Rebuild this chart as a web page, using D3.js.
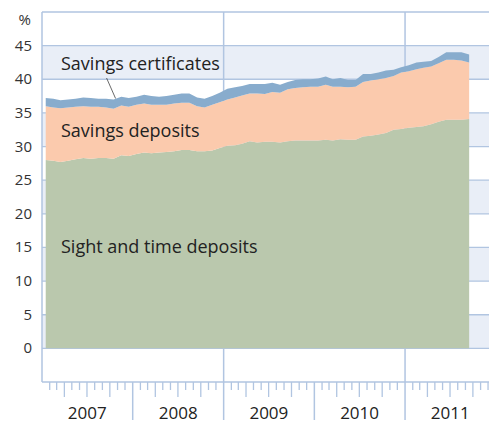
<!DOCTYPE html>
<html>
<head>
<meta charset="utf-8">
<script src="https://cdn.jsdelivr.net/npm/d3@7"></script>
<style>
  body { margin: 0; background: #fff; }
  svg { display: block; font-family: "Open Sans", sans-serif; }
</style>
</head>
<body>
<div id="chart"></div>
<script>
// monthly shares, Jan 2007 - Sep 2011 (%)
var sightTime = [28.0, 27.9, 27.7, 27.9, 28.1, 28.3, 28.2, 28.3, 28.3, 28.2, 28.7, 28.6,
                 28.9, 29.1, 29.0, 29.1, 29.2, 29.3, 29.5, 29.5, 29.3, 29.3, 29.4, 29.8,
                 30.1, 30.2, 30.4, 30.8, 30.6, 30.7, 30.7, 30.6, 30.8, 30.9, 30.9, 30.9,
                 30.9, 31.0, 30.9, 31.1, 31.0, 31.0, 31.5, 31.6, 31.8, 32.0, 32.5, 32.6,
                 32.8, 32.9, 33.0, 33.3, 33.7, 34.0, 34.0, 34.0, 34.1];
var savingsDeposits = [8.0, 7.9, 8.0, 7.9, 7.8, 7.7, 7.7, 7.6, 7.5, 7.4, 7.4, 7.3,
                       7.3, 7.3, 7.2, 7.1, 7.0, 7.1, 7.0, 7.0, 6.7, 6.5, 6.8, 6.8,
                       6.9, 7.1, 7.2, 7.1, 7.3, 7.1, 7.4, 7.4, 7.7, 7.8, 7.9, 8.0,
                       8.0, 8.2, 8.0, 7.8, 7.8, 7.9, 8.1, 8.2, 8.2, 8.2, 8.0, 8.4,
                       8.4, 8.6, 8.7, 8.6, 8.7, 8.9, 8.9, 8.8, 8.4];
var savingsCertificates = [1.2, 1.3, 1.2, 1.2, 1.2, 1.3, 1.3, 1.2, 1.3, 1.4, 1.3, 1.3,
                           1.2, 1.3, 1.3, 1.2, 1.3, 1.3, 1.4, 1.4, 1.3, 1.3, 1.3, 1.4,
                           1.6, 1.5, 1.4, 1.4, 1.4, 1.5, 1.4, 1.2, 1.1, 1.2, 1.2, 1.1,
                           1.2, 1.2, 1.1, 1.3, 1.1, 1.0, 1.2, 1.0, 1.0, 1.1, 0.9, 0.8,
                           0.9, 1.0, 0.9, 0.8, 0.9, 1.1, 1.1, 1.2, 1.2];
var years = [2007, 2008, 2009, 2010, 2011];
var yTicks = [0, 5, 10, 15, 20, 25, 30, 35, 40, 45];

var width = 489;
var height = 424;
var left = 42;

var months = d3.timeMonth.range(new Date(2007, 0, 1), new Date(2011, 9, 1));
var rows = months.map(function (m, i) {
    return {
        date: new Date(m.getFullYear(), m.getMonth(), 16),
        sight: sightTime[i],
        deposits: savingsDeposits[i],
        certificates: savingsCertificates[i]
    };
});

var x = d3.scaleTime()
    .domain([new Date(2007, 0, 1), new Date(2012, 0, 1)])
    .range([left, left + 60 * 7.5625]);
var y = d3.scaleLinear().domain([-5, 50]).range([382, 12]);

var gridColor = "#b1c5e1";
var svg = d3.select("#chart").append("svg")
    .attr("width", width)
    .attr("height", height);

// alternating bands
svg.append("g").selectAll("rect")
    .data([0, 10, 20, 30, 40])
    .enter().append("rect")
    .attr("x", left)
    .attr("y", function (d) { return y(d + 5); })
    .attr("width", width - left)
    .attr("height", function (d) { return y(d) - y(d + 5); })
    .attr("fill", "#e9eef7");

// horizontal lines
svg.append("g").selectAll("line")
    .data(d3.range(-5, 51, 5))
    .enter().append("line")
    .attr("x1", left).attr("x2", width)
    .attr("y1", function (d) { return y(d); })
    .attr("y2", function (d) { return y(d); })
    .attr("stroke", gridColor)
    .attr("stroke-width", 1.3);

// vertical lines every two years
svg.append("g").selectAll("line")
    .data([2009, 2011])
    .enter().append("line")
    .attr("x1", function (d) { return x(new Date(d, 0, 1)); })
    .attr("x2", function (d) { return x(new Date(d, 0, 1)); })
    .attr("y1", y(50)).attr("y2", 420)
    .attr("stroke", gridColor)
    .attr("stroke-width", 1.5);

svg.append("line")
    .attr("x1", left).attr("x2", left)
    .attr("y1", y(50)).attr("y2", y(-5))
    .attr("stroke", gridColor)
    .attr("stroke-width", 1.5);

// stacked areas
var stack = d3.stack().keys(["sight", "deposits", "certificates"]);
var colors = { sight: "#bac8ad", deposits: "#fbcaad", certificates: "#88accd" };
var area = d3.area()
    .x(function (d) { return x(d.data.date); })
    .y0(function (d) { return y(d[0]); })
    .y1(function (d) { return y(d[1]); });

svg.append("g").selectAll("path")
    .data(stack(rows))
    .enter().append("path")
    .attr("d", area)
    .attr("fill", function (d) { return colors[d.key]; });

// bottom axis ticks
var allMonths = d3.timeMonth.range(new Date(2007, 0, 1), new Date(2012, 1, 1));
svg.append("g").selectAll("line")
    .data(allMonths.filter(function (m) { return m.getMonth() != 0; }))
    .enter().append("line")
    .attr("x1", function (d) { return x(d); })
    .attr("x2", function (d) { return x(d); })
    .attr("y1", 382)
    .attr("y2", function (d) { return d.getMonth() % 3 == 0 ? 397 : 390; })
    .attr("stroke", gridColor)
    .attr("stroke-width", 1.3);

svg.append("g").selectAll("line")
    .data([2008, 2010])
    .enter().append("line")
    .attr("x1", function (d) { return x(new Date(d, 0, 1)); })
    .attr("x2", function (d) { return x(new Date(d, 0, 1)); })
    .attr("y1", 382).attr("y2", 420)
    .attr("stroke", gridColor)
    .attr("stroke-width", 1.5);

svg.append("g").selectAll("text")
    .data(years)
    .enter().append("text")
    .attr("x", function (d) { return x(new Date(d, 6, 2)); })
    .attr("y", 419)
    .attr("text-anchor", "middle")
    .attr("font-size", "17px")
    .attr("fill", "#222")
    .text(function (d) { return d; });

// y labels
svg.append("g").selectAll("text")
    .data(yTicks)
    .enter().append("text")
    .attr("x", 32)
    .attr("y", function (d) { return y(d) + 5; })
    .attr("text-anchor", "end")
    .attr("font-size", "15px")
    .attr("fill", "#333")
    .text(function (d) { return d; });

svg.append("text")
    .attr("x", 31).attr("y", 25)
    .attr("text-anchor", "end")
    .attr("font-size", "15px")
    .attr("fill", "#333")
    .text("%");

// series labels
var labelStyle = function (sel) {
    sel.attr("font-size", "18px").attr("fill", "#222");
};
svg.append("text").attr("x", 61).attr("y", 70).call(labelStyle).text("Savings certificates");
svg.append("text").attr("x", 61).attr("y", 137).call(labelStyle).text("Savings deposits");
svg.append("text").attr("x", 61).attr("y", 253).call(labelStyle).text("Sight and time deposits");

var p = rows[9];
svg.append("line")
    .attr("x1", x(p.date) - 7).attr("y1", 78)
    .attr("x2", x(p.date) + 2)
    .attr("y2", y(p.sight + p.deposits + p.certificates) - 1)
    .attr("stroke", "#444")
    .attr("stroke-width", 0.8);
</script>
</body>
</html>
